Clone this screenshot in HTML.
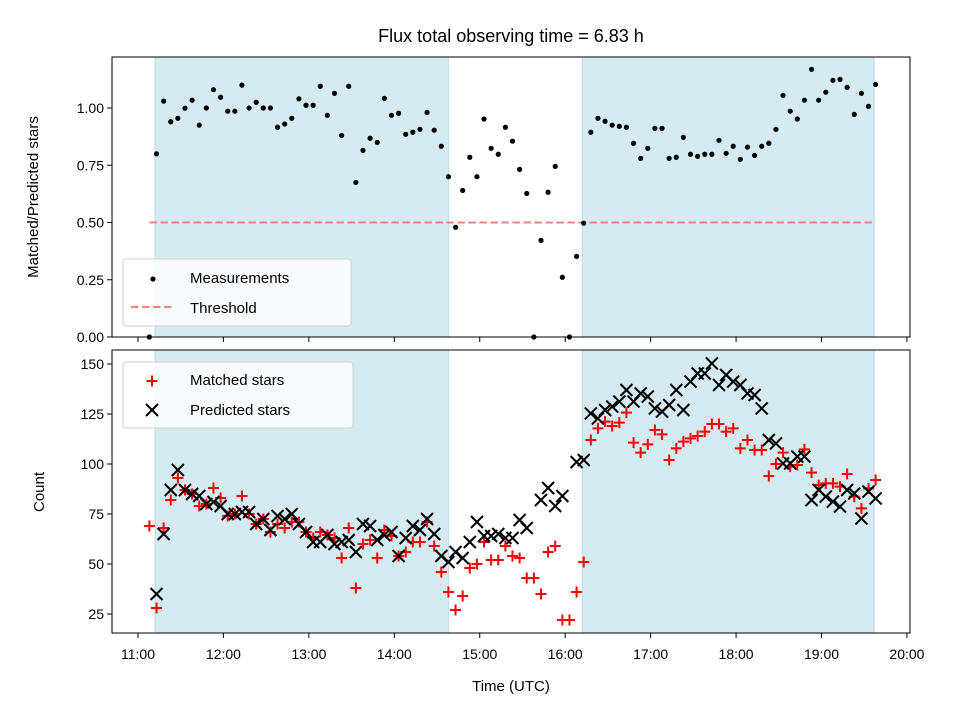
<!DOCTYPE html>
<html><head><meta charset="utf-8"><style>
body{margin:0;background:#fff}
svg{display:block;font-family:"Liberation Sans","DejaVu Sans",sans-serif}
</style></head><body>
<svg id="fig" width="960" height="720" viewBox="0 0 960 720"></svg>
<script>
const times=[8,13,18,23,28,33,38,43,48,53,58,63,68,73,78,83,88,93,98,103,108,113,118,123,128,133,138,143,148,153,158,163,168,173,178,183,188,193,198,203,208,213,218,223,228,233,238,243,248,253,258,263,268,273,278,283,288,293,298,303,308,313,318,323,328,333,338,343,348,353,358,363,368,373,378,383,388,393,398,403,408,413,418,423,428,433,438,443,448,453,458,463,468,473,478,483,488,493,498,503,508,513,518];
const ratio=[0,0.80,1.03,0.94,0.955,0.999,1.034,0.925,1.00,1.08,1.047,0.986,0.986,1.10,1.00,1.025,1.00,1.00,0.916,0.93,0.955,1.04,1.012,1.012,1.095,0.968,1.064,0.88,1.095,0.675,0.815,0.868,0.85,1.042,0.968,0.977,0.885,0.894,0.907,0.981,0.903,0.833,0.70,0.479,0.64,0.785,0.70,0.952,0.824,0.798,0.916,0.855,0.732,0.627,0,0.422,0.632,0.745,0.261,0,0.352,0.497,0.894,0.955,0.942,0.925,0.92,0.916,0.846,0.78,0.824,0.911,0.911,0.78,0.785,0.872,0.798,0.789,0.798,0.798,0.859,0.802,0.833,0.776,0.829,0.793,0.833,0.846,0.907,1.055,0.986,0.952,1.034,1.169,1.034,1.069,1.121,1.125,1.09,0.972,1.064,1.007,1.103];
const matched=[69,28,68,82,93,87,85,79,80,88,83,74,75,84,75,70,72.5,66,70,68,71,71,66,63,66,64.5,63,53,68,38,60,62,53,67,64,54,56,61,61,71,59,46,36,27,34,48,50,61,52,52,59,54,53,43,43,35,56,59,22,22,36,51,112,117.8,121.2,119,120.7,125.7,110.7,105.7,109.8,117,114.8,102,107.8,111.2,112.8,114,116.2,120,120,116.2,117.8,107.8,112,107,107,94,100,105.7,98.7,99.5,107.3,95.7,89.5,90.3,90.3,88.7,95,83.7,77.8,87.8,92];
const predicted=[null,35,65,87,97,87,85,84,80,81,79,75,75,76,76,70,72.5,67,74,72.5,75,70,66,61,61,64.5,60,61,62,56,70,69,62,64.5,66,54,63,69,67,72.5,65,54,51,56,53,61,71,64,64,65,63,63,72,68,null,82,88,79,84,null,101,102,125.3,122.8,127,128.7,131.2,137,131.2,135.3,133.7,127.8,126.2,129.5,137,127,141.2,145.3,145.3,150.3,139.5,144.5,141.2,139.5,135.3,134.5,127.8,112,110.3,100.3,100.3,103.7,103.7,82,87,83.7,81.2,78.7,87,85.3,72.8,86.2,82.8];
const xTickLabels=["11:00","12:00","13:00","14:00","15:00","16:00","17:00","18:00","19:00","20:00"];
const xTickMins=[0,60,120,180,240,300,360,420,480,540];
const topTicks=[0,0.25,0.5,0.75,1.0];
const topTickLabels=["0.00","0.25","0.50","0.75","1.00"];
const botTicks=[25,50,75,100,125,150];
const shadeSpans=[[12,218],[312,517]];
const threshold=0.5;

const NS="http://www.w3.org/2000/svg";
const svg=document.getElementById('fig');
function mk(tag,attrs,parent){const e=document.createElementNS(NS,tag);for(const k in attrs)e.setAttribute(k,attrs[k]);(parent||svg).appendChild(e);return e;}
const X0=112,X1=910;
const xs=m=>138+m*85.44/60;
const ysTop=v=>337-v*229;
const ysBot=v=>614-(v-25)*2;
const T={y0:57,y1:337},B={y0:350,y1:633};

function panel(P,name){
  const g=mk('g',{});
  
  
  mk('rect',{x:X0,y:P.y0,width:X1-X0,height:P.y1-P.y0,fill:'#fff'},g);
  shadeSpans.forEach(s=>{
    const r=mk('rect',{x:xs(s[0]),y:P.y0,width:xs(s[1])-xs(s[0]),height:P.y1-P.y0,fill:'#d5ebf1',stroke:'#b9dbe6','stroke-width':1},g);
    
    
  });
  return g;
}
function frame(P,g){
  mk('rect',{x:X0,y:P.y0,width:X1-X0,height:P.y1-P.y0,fill:'none',stroke:'#000','stroke-width':1},g);
  xTickMins.forEach(m=>mk('line',{x1:xs(m),x2:xs(m),y1:P.y1,y2:P.y1+5,stroke:'#000'},g));
}
// top panel
const gt=panel(T,'ratio-panel');
const th=mk('line',{x1:xs(times[0]),x2:xs(times[times.length-1]),y1:ysTop(threshold),y2:ysTop(threshold),stroke:'#f58080','stroke-width':2,'stroke-dasharray':'7.5,3.5'},gt);


ratio.forEach((v,i)=>{
  const c=mk('circle',{cx:xs(times[i]),cy:ysTop(v),r:2.6,fill:'#000'},gt);
  
  
});
frame(T,gt);
topTicks.forEach((v,i)=>{
  mk('line',{x1:X0-5,x2:X0,y1:ysTop(v),y2:ysTop(v),stroke:'#000'},gt);
  const t=mk('text',{x:X0-8,y:ysTop(v)+5,'text-anchor':'end','font-size':14},gt);t.textContent=topTickLabels[i];
  
  
});
// bottom panel
const gb=panel(B,'count-panel');
function plus(x,y,g){const p=mk('path',{d:`M${x-5.5} ${y}H${x+5.5}M${x} ${y-5.5}V${y+5.5}`,stroke:'#f00','stroke-width':2},g);return p;}
function cross(x,y,g){const p=mk('path',{d:`M${x-6} ${y-6}L${x+6} ${y+6}M${x-6} ${y+6}L${x+6} ${y-6}`,stroke:'#000','stroke-width':2},g);return p;}
matched.forEach((v,i)=>{
  if(v==null)return;
  const p=plus(xs(times[i]),ysBot(v),gb);
  
  
});
predicted.forEach((v,i)=>{
  if(v==null)return;
  const p=cross(xs(times[i]),ysBot(v),gb);
  
  
});
frame(B,gb);
botTicks.forEach(v=>{
  mk('line',{x1:X0-5,x2:X0,y1:ysBot(v),y2:ysBot(v),stroke:'#000'},gb);
  const t=mk('text',{x:X0-8,y:ysBot(v)+5,'text-anchor':'end','font-size':14},gb);t.textContent=String(v);
  
  
});
xTickMins.forEach((m,i)=>{
  const t=mk('text',{x:xs(m),y:659,'text-anchor':'middle','font-size':14},gb);t.textContent=xTickLabels[i];
  
  
});
// legends
function legend(x,y,w,h,name){const g=mk('g',{});
  mk('rect',{x:x,y:y,width:w,height:h,rx:3,fill:'rgba(255,255,255,0.8)',stroke:'#d0d0d0'},g);return g;}
const lt=legend(123,259,228,67,'ratio-legend');
mk('circle',{cx:153,cy:279,r:2.6,fill:'#000'},lt);
let t=mk('text',{x:190,y:283,'font-size':15},lt);t.textContent='Measurements';
mk('line',{x1:131,x2:175,y1:307,y2:307,stroke:'#f58080','stroke-width':2,'stroke-dasharray':'7.5,3.5'},lt);
t=mk('text',{x:190,y:313,'font-size':15},lt);t.textContent='Threshold';
const lb=legend(123,362,230,66,'count-legend');
plus(152,381,lb);
t=mk('text',{x:190,y:385,'font-size':15},lb);t.textContent='Matched stars';
cross(152,410,lb);
t=mk('text',{x:190,y:415,'font-size':15},lb);t.textContent='Predicted stars';
// titles
t=mk('text',{x:511,y:42,'text-anchor':'middle','font-size':18});t.textContent='Flux total observing time = 6.83 h';


t=mk('text',{x:511,y:691,'text-anchor':'middle','font-size':15});t.textContent='Time (UTC)';


t=mk('text',{x:0,y:0,'text-anchor':'middle','font-size':15,transform:'translate(38,197) rotate(-90)'});t.textContent='Matched/Predicted stars';


t=mk('text',{x:0,y:0,'text-anchor':'middle','font-size':15,transform:'translate(44,492) rotate(-90)'});t.textContent='Count';


</script>
</body></html>
